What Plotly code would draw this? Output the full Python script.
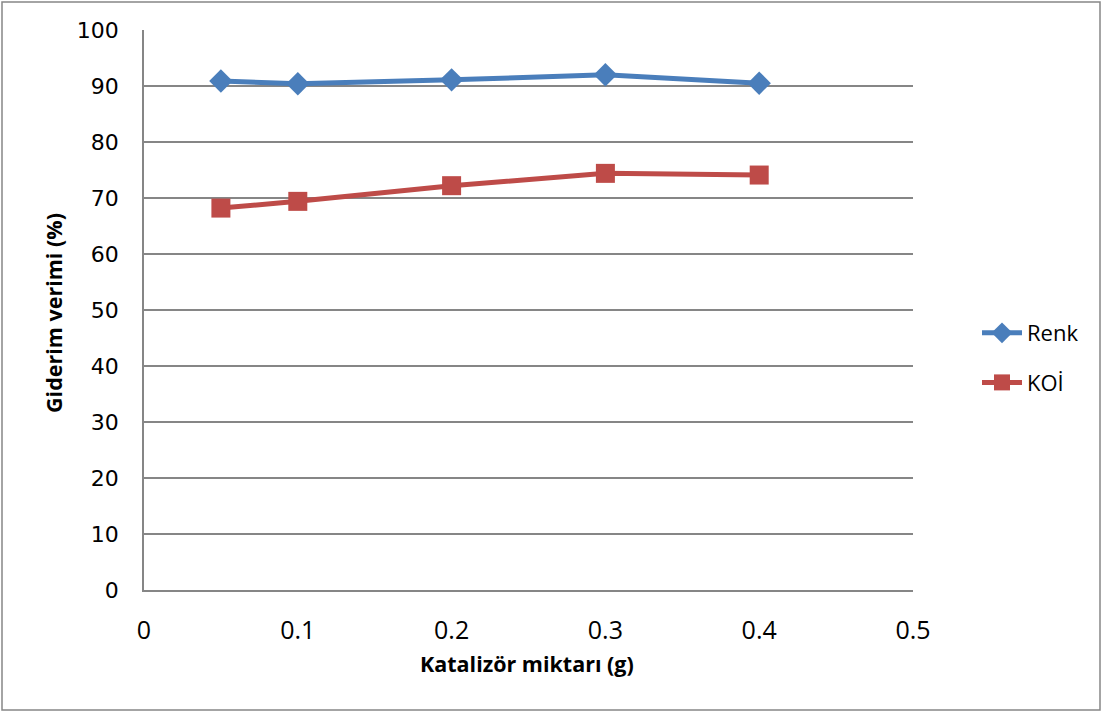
import plotly.graph_objects as go

x_vals = [0.05, 0.1, 0.2, 0.3, 0.4]
renk = [90.9, 90.4, 91.1, 92.0, 90.5]
koi = [68.2, 69.4, 72.2, 74.4, 74.1]
x_ticks = [0, 0.1, 0.2, 0.3, 0.4, 0.5]
x_ticktext = ["0", "0.1", "0.2", "0.3", "0.4", "0.5"]

W, H = 1103, 713
L, R, T, B = 144, 913, 30, 590
pw, ph = R - L, B - T

fig = go.Figure()
fig.add_trace(go.Scatter(x=x_vals, y=renk, name="Renk", mode="lines+markers",
                         legendgroup="a",
                         line=dict(color="#4A7EBB", width=5),
                         marker=dict(symbol="diamond", size=18, color="#4A7EBB")))
fig.add_trace(go.Scatter(x=x_vals, y=koi, name="KOİ", mode="lines+markers",
                         legendgroup="b",
                         line=dict(color="#BE4B48", width=5),
                         marker=dict(symbol="square", size=19, color="#BE4B48")))

grid = "#868686"
fig.update_layout(
    width=W, height=H,
    margin=dict(l=L, r=W - R, t=T, b=H - B),
    paper_bgcolor="white", plot_bgcolor="white",
    font=dict(family="Open Sans, sans-serif", color="black", size=18),
    xaxis=dict(range=[0, 0.5], tickvals=x_ticks, ticktext=x_ticktext,
               showgrid=False, zeroline=False, showline=True, linecolor=grid, linewidth=1.5,
               ticks="", tickfont=dict(size=25, family="Open Sans"), ticklabelstandoff=17),
    yaxis=dict(range=[0, 100], tickvals=list(range(0, 101, 10)),
               showgrid=True, gridcolor=grid, gridwidth=1.5, zeroline=False,
               showline=True, linecolor=grid, linewidth=1.5, ticks="",
               tickfont=dict(size=22, family="DejaVu Sans"), ticklabelstandoff=19),
    legend=dict(x=(977 - L) / pw, y=(590 - 358) / ph, xanchor="left", yanchor="middle",
                font=dict(size=22, family="Open Sans"), tracegroupgap=18,
                bgcolor="rgba(0,0,0,0)", itemwidth=40),
    showlegend=True,
)

fig.add_annotation(text="<b>Katalizör miktarı (g)</b>", xref="paper", yref="paper",
                   x=(527 - L) / pw, y=(B - 663) / ph, xanchor="center", yanchor="middle",
                   showarrow=False, font=dict(size=21.5, family="Open Sans"))
fig.add_annotation(text="<b>Giderim verimi (%)</b>", xref="paper", yref="paper",
                   x=(53 - L) / pw, y=(B - 313) / ph, xanchor="center", yanchor="middle",
                   textangle=-90, showarrow=False, font=dict(size=21.5, family="Open Sans"))

fig.add_shape(type="rect", xref="paper", yref="paper",
              x0=(2 - L) / pw, x1=(1100 - L) / pw,
              y0=(B - 710) / ph, y1=(B - 2) / ph,
              line=dict(color="#868686", width=1.5), fillcolor="rgba(0,0,0,0)", layer="below")

fig.write_html("out.html")
